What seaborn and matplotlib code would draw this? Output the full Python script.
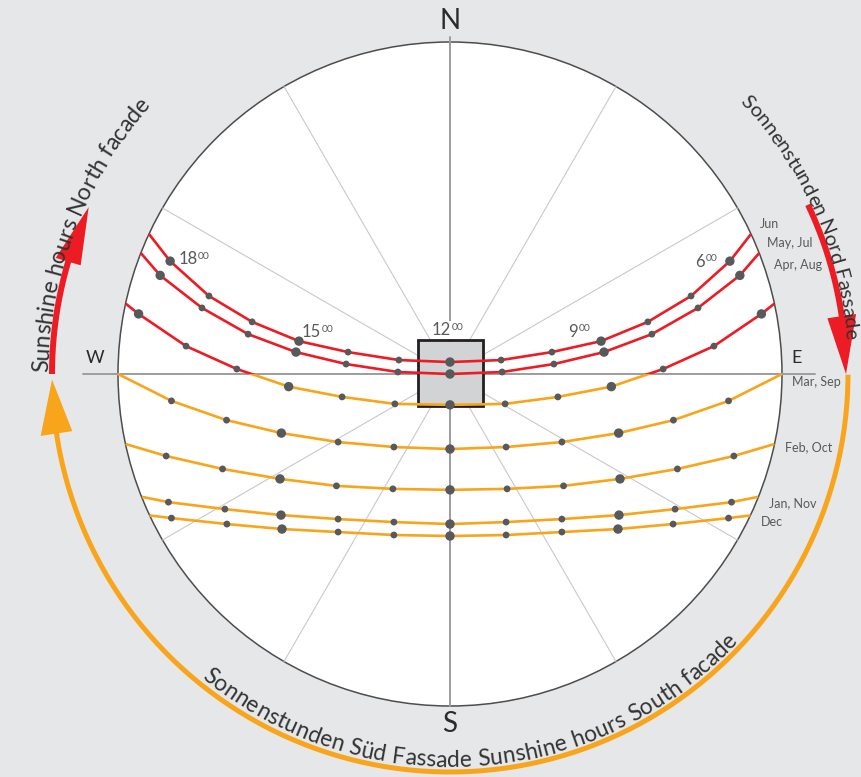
import numpy as np
import pandas as pd
import matplotlib
matplotlib.use("Agg")
import matplotlib.pyplot as plt
from matplotlib.patches import Circle, Rectangle, Polygon
from matplotlib.font_manager import FontProperties
import seaborn as sns

# ---------------------------------------------------------------------------
# Sun path data, in diagram units (horizon circle radius = 1, x = east, y = north)
# ---------------------------------------------------------------------------
SEASONS = ["Jun", "May, Jul", "Apr, Aug", "Mar, Sep", "Feb, Oct", "Jan, Nov", "Dec"]

HOURS_LONG = [6, 7, 8, 9, 10, 11, 12, 13, 14, 15, 16, 17, 18]
HOURS_SHORT = [7, 8, 9, 10, 11, 12, 13, 14, 15, 16, 17]

jun_x = [0.843, 0.726, 0.596, 0.455, 0.307, 0.154, 0.0, -0.154, -0.307, -0.455, -0.596, -0.726, -0.843]
jun_y = [0.340, 0.235, 0.157, 0.099, 0.066, 0.042, 0.036, 0.042, 0.066, 0.099, 0.157, 0.235, 0.340]

may_jul_x = [0.873, 0.747, 0.608, 0.464, 0.313, 0.157, 0.0, -0.157, -0.313, -0.464, -0.608, -0.747, -0.873]
may_jul_y = [0.297, 0.199, 0.120, 0.066, 0.030, 0.006, 0.0, 0.006, 0.030, 0.066, 0.120, 0.199, 0.297]

apr_aug_x = [0.938, 0.795, 0.642, 0.486, 0.325, 0.166, 0.0, -0.166, -0.325, -0.486, -0.642, -0.795, -0.938]
apr_aug_y = [0.181, 0.084, 0.015, -0.038, -0.069, -0.090, -0.093, -0.090, -0.069, -0.038, 0.015, 0.084, 0.181]

mar_sep_x = [0.839, 0.673, 0.508, 0.337, 0.169, 0.0, -0.169, -0.337, -0.508, -0.673, -0.839]
mar_sep_y = [-0.081, -0.139, -0.178, -0.205, -0.220, -0.226, -0.220, -0.205, -0.178, -0.139, -0.081]

feb_oct_x = [0.855, 0.685, 0.512, 0.342, 0.172, 0.0, -0.172, -0.342, -0.512, -0.685, -0.855]
feb_oct_y = [-0.247, -0.286, -0.316, -0.337, -0.346, -0.349, -0.346, -0.337, -0.316, -0.286, -0.247]

jan_nov_x = [0.848, 0.678, 0.509, 0.337, 0.169, 0.0, -0.169, -0.337, -0.509, -0.678, -0.848]
jan_nov_y = [-0.386, -0.407, -0.425, -0.437, -0.446, -0.452, -0.446, -0.437, -0.425, -0.407, -0.386]

dec_x = [0.839, 0.672, 0.506, 0.337, 0.169, 0.0, -0.169, -0.337, -0.506, -0.672, -0.839]
dec_y = [-0.434, -0.452, -0.467, -0.476, -0.485, -0.488, -0.485, -0.476, -0.467, -0.452, -0.434]

# where each path meets the horizon circle (east = sunrise side, west = sunset side)
sunrise_x = [0.907, 0.931, 0.977, 1.000, 0.977, 0.928, 0.905]
sunrise_y = [0.422, 0.364, 0.212, 0.000, -0.211, -0.370, -0.426]
sunset_x = [-0.907, -0.931, -0.977, -1.000, -0.977, -0.928, -0.905]
sunset_y = [0.422, 0.364, 0.212, 0.000, -0.211, -0.370, -0.426]

PATHS = {
    "Jun": (HOURS_LONG, jun_x, jun_y),
    "May, Jul": (HOURS_LONG, may_jul_x, may_jul_y),
    "Apr, Aug": (HOURS_LONG, apr_aug_x, apr_aug_y),
    "Mar, Sep": (HOURS_SHORT, mar_sep_x, mar_sep_y),
    "Feb, Oct": (HOURS_SHORT, feb_oct_x, feb_oct_y),
    "Jan, Nov": (HOURS_SHORT, jan_nov_x, jan_nov_y),
    "Dec": (HOURS_SHORT, dec_x, dec_y),
}

HOUR_LABELS = [6, 9, 12, 15, 18]

# ---------------------------------------------------------------------------
# Style
# ---------------------------------------------------------------------------
RED = "#ed1c24"
ORANGE = "#f8a51b"
DOT = "#58595b"
TEXT = "#58595b"
DARK = "#2b2b2b"
BG = "#e6e7e8"
FONT = ["Lato", "DejaVu Sans"]

sns.set_style("white")
plt.rcParams["font.family"] = FONT

W_PX, H_PX = 861, 777
CX, CY, R_PX = 450, 374, 332          # centre and radius of the horizon circle

fig = plt.figure(figsize=(W_PX / 100, H_PX / 100), dpi=100, facecolor=BG)
ax = fig.add_axes([0, 0, 1, 1])
ax.set_facecolor("none")
ax.axis("off")


def px(v):
    """pixel length -> diagram units"""
    return v / R_PX


# horizon disc
ax.add_patch(Circle((0, 0), 1.0, facecolor="white", edgecolor="#4d4d4d", lw=1.1, zorder=0.5))

# 30-degree guide rays
for a in [30, 60, 120, 150, 210, 240, 300, 330]:
    t = np.radians(a)
    ax.plot([0, np.cos(t)], [0, np.sin(t)], color="#c9c9c9", lw=0.8, zorder=1)

# compass axes
ax.plot([0, 0], [-1.0, 1.015], color="#9d9d9d", lw=1.4, zorder=1.5)
ax.plot([-1.105, 1.099], [0, 0], color="#9d9d9d", lw=1.4, zorder=1.5)

# building footprint
ax.add_patch(Rectangle((-0.097, -0.096), 0.196, 0.198, facecolor="#d1d3d4",
                       edgecolor="#231f20", lw=2.0, zorder=2))

# ---------------------------------------------------------------------------
# Sun paths (red = north side of the E-W axis, orange = south side)
# ---------------------------------------------------------------------------
north_clip = Rectangle((-2, 0), 4, 3, transform=ax.transData)
south_clip = Rectangle((-2, -3), 4, 3, transform=ax.transData)

dot_rows = []
for i, season in enumerate(SEASONS):
    hours, hx, hy = PATHS[season]
    curve = pd.DataFrame({
        "x": [sunrise_x[i]] + list(hx) + [sunset_x[i]],
        "y": [sunrise_y[i]] + list(hy) + [sunset_y[i]],
    })
    if curve["y"].min() >= 0:
        parts = [(RED, None)]
    elif curve["y"].max() <= 0:
        parts = [(ORANGE, None)]
    else:
        parts = [(RED, north_clip), (ORANGE, south_clip)]
    for color, clip in parts:
        sns.lineplot(data=curve, x="x", y="y", sort=False, estimator=None,
                     color=color, lw=1.9, ax=ax, zorder=3)
        line = ax.lines[-1]
        line.set_solid_capstyle("butt")
        if clip is not None:
            line.set_clip_path(clip)
    for h, x, y in zip(hours, hx, hy):
        dot_rows.append({"season": season, "hour": h, "x": x, "y": y,
                         "mark": "major" if h % 3 == 0 else "minor"})

dots = pd.DataFrame(dot_rows)
sns.scatterplot(data=dots, x="x", y="y", size="mark",
                sizes={"major": 46, "minor": 24}, color=DOT, linewidth=0,
                legend=False, ax=ax, zorder=4)

# hour labels on the June path  (offsets in pixels: split point, digit centre)
label_offsets = {6: (-25, 0.5), 9: (-23, 10.5), 12: (1, 33), 15: (22, 10), 18: (27.5, 3)}
jun = dots[dots["season"] == "Jun"].set_index("hour")
for h in HOUR_LABELS:
    ox, oy = label_offsets[h]
    xy = (jun.loc[h, "x"], jun.loc[h, "y"])
    box = dict(boxstyle="square,pad=0.05", fc="white", ec="none") if h == 12 else None
    ax.annotate(str(h), xy, xytext=(ox, oy - 6), textcoords="offset pixels",
                ha="right", va="baseline", fontsize=12, color=TEXT, zorder=5, bbox=box)
    ax.annotate("00", xy, xytext=(ox + 0.5, oy - 0.5), textcoords="offset pixels",
                ha="left", va="baseline", fontsize=7.5, color=TEXT, zorder=5, bbox=box)

# month labels outside the east horizon
month_label_pos = [(0.934, 0.452), (0.955, 0.395), (0.976, 0.328), (1.030, -0.024),
                   (1.009, -0.220), (0.961, -0.389), (0.937, -0.446)]
for season, (x, y) in zip(SEASONS, month_label_pos):
    ax.text(x, y, season, ha="left", va="center", fontsize=9, color=TEXT, zorder=5)

# compass letters
ax.text(0, px(353), "N", ha="center", va="center", fontsize=20, color=DARK, zorder=5)
ax.text(0, -px(350), "S", ha="center", va="center", fontsize=20, color=DARK, zorder=5)
ax.text(-px(355), px(16), "W", ha="center", va="center", fontsize=13, color=DARK, zorder=5)
ax.text(px(347), px(16), "E", ha="center", va="center", fontsize=13, color=DARK, zorder=5)

# ---------------------------------------------------------------------------
# Outer arrows for facade sunshine hours
# ---------------------------------------------------------------------------
R_ARC = px(398)


def arc(r, a0, a1, color, lw):
    t = np.radians(np.linspace(a0, a1, 200))
    ln, = ax.plot(r * np.cos(t), r * np.sin(t), color=color, lw=lw, zorder=2.5)
    ln.set_solid_capstyle("butt")


def head(r, a_base, a_tip, width, color):
    tb, tt = np.radians(a_base), np.radians(a_tip)
    pts = [((r - width / 2) * np.cos(tb), (r - width / 2) * np.sin(tb)),
           ((r + width / 2) * np.cos(tb), (r + width / 2) * np.sin(tb)),
           (r * np.cos(tt), r * np.sin(tt))]
    ax.add_patch(Polygon(pts, closed=True, facecolor=color, edgecolor="none", zorder=2.5))


# south facade (orange), from W round the south to E
arc(R_ARC, 188.0, 359.9, ORANGE, 3.6)
head(R_ARC, 188.6, 180.8, px(32), ORANGE)
# north facade (red), left: W upwards
arc(R_ARC, 180.0, 163.0, RED, 4.3)
head(R_ARC, 163.6, 155.2, px(26), RED)
# north facade (red), right: downwards to E
arc(px(396), 25.3, 8.0, RED, 4.3)
head(px(396), 8.4, 0.0, px(29), RED)


# ---------------------------------------------------------------------------
# Text set along the outer arcs
# ---------------------------------------------------------------------------
def curved_text(text, r_base, r_mid, start_deg, end_deg, outward, color):
    renderer = fig.canvas.get_renderer()
    prop = FontProperties(family=FONT, size=10)
    w0 = renderer.get_text_width_height_descent("||", prop, ismath=False)[0]
    widths = np.array([renderer.get_text_width_height_descent("|" + c + "|", prop, ismath=False)[0] - w0
                       for c in text])
    span_px = np.radians(abs(end_deg - start_deg)) * r_mid * R_PX
    fs = 10 * span_px / widths.sum()
    steps = widths / widths.sum() * np.radians(abs(end_deg - start_deg))
    sign = np.sign(end_deg - start_deg)
    theta = np.radians(start_deg)
    for c, d in zip(text, steps):
        tc = theta + sign * d / 2
        rot = np.degrees(tc) - 90 if outward else np.degrees(tc) + 90
        ax.text(r_base * np.cos(tc), r_base * np.sin(tc), c, rotation=rot,
                rotation_mode="anchor", ha="center", va="baseline",
                fontsize=fs, color=color, zorder=6)
        theta += sign * d


curved_text("Sunshine hours North facade", px(402), px(409), 179.7, 138.0, True, "#333333")
curved_text("Sonnenstunden Nord Fassade", px(397), px(404), 43.2, 5.0, True, "#333333")
curved_text("Sonnenstunden Süd Fassade Sunshine hours South facade",
            px(393), px(386), 230.7, 317.2, False, "#333333")

ax.set_xlim(-CX / R_PX, (W_PX - CX) / R_PX)
ax.set_ylim(-(H_PX - CY) / R_PX, CY / R_PX)

fig.savefig("out.png", dpi=100, facecolor=BG)
